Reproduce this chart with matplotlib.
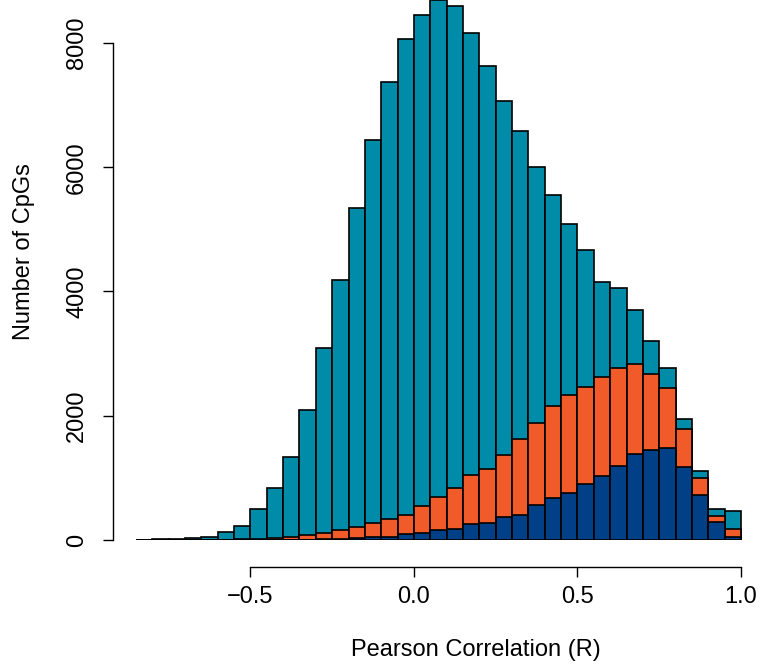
import numpy as np
import matplotlib
matplotlib.use("Agg")
import matplotlib.pyplot as plt

# Histogram bins (Pearson correlation), width 0.05 from -0.85 to 1.0
bin_edges = [round(-0.85 + 0.05 * i, 2) for i in range(38)]

# All CpGs (teal)
all_counts = [5, 10, 20, 30, 55, 135, 225, 500, 840, 1340,
              2090, 3085, 4180, 5345, 6440, 7370, 8060, 8445, 8700, 8600,
              8165, 7630, 7070, 6580, 6010, 5555, 5090, 4660, 4160, 4050,
              3710, 3210, 2775, 1950, 1115, 500, 465]
# Subset (orange)
sub_counts = [0, 0, 0, 0, 2, 5, 10, 15, 25, 45,
              75, 110, 155, 205, 275, 340, 400, 555, 700, 835,
              1040, 1150, 1370, 1625, 1880, 2160, 2330, 2470, 2630, 2775,
              2830, 2680, 2450, 1780, 990, 385, 170]
# Sub-subset (navy)
subsub_counts = [0, 0, 0, 0, 0, 0, 0, 2, 4, 6,
                 8, 10, 20, 30, 45, 55, 95, 120, 160, 185,
                 250, 280, 365, 410, 560, 670, 760, 905, 1030, 1190,
                 1380, 1450, 1485, 1180, 730, 295, 45]

x_ticks = [-0.5, 0.0, 0.5, 1.0]
x_ticklabels = ["\u22120.5", "0.0", "0.5", "1.0"]
y_ticks = [0, 2000, 4000, 6000, 8000]

plt.rcParams['font.family'] = ['Liberation Sans', 'DejaVu Sans']

fig = plt.figure(figsize=(7.62, 6.64), dpi=100)
ax = fig.add_axes([113/762, 1 - 540/664, 644.4/762, 540/664])

edges = np.array(bin_edges)
lefts = edges[:-1]
w = np.diff(edges)
for counts, col in [(all_counts, '#008BA9'), (sub_counts, '#F15A29'), (subsub_counts, '#013F87')]:
    ax.bar(lefts, counts, width=w, align='edge', color=col, edgecolor='black', linewidth=1.2)

ax.set_xlim(-0.92, 1.05)
ax.set_ylim(0, 8692)

for s in ['top', 'right']:
    ax.spines[s].set_visible(False)
ax.spines['bottom'].set_position(('outward', 19.4))
ax.spines['bottom'].set_bounds(-0.5, 1.0)
ax.spines['left'].set_bounds(0, 8000)
for s in ['bottom', 'left']:
    ax.spines[s].set_linewidth(1.0)

ax.set_xticks(x_ticks)
ax.set_xticklabels(x_ticklabels)
ax.set_yticks(y_ticks)
ax.set_yticklabels([str(v) for v in y_ticks], rotation=90, va='center')
ax.tick_params(axis='both', length=7, width=1.0, labelsize=17)
ax.tick_params(axis='x', pad=7)
ax.tick_params(axis='y', pad=11)

ax.set_xlabel("Pearson Correlation (R)", fontsize=17, labelpad=22, x=0.563)
ax.set_ylabel("Number of CpGs", fontsize=17, labelpad=22, y=0.534)

fig.savefig("out.png", dpi=100)
